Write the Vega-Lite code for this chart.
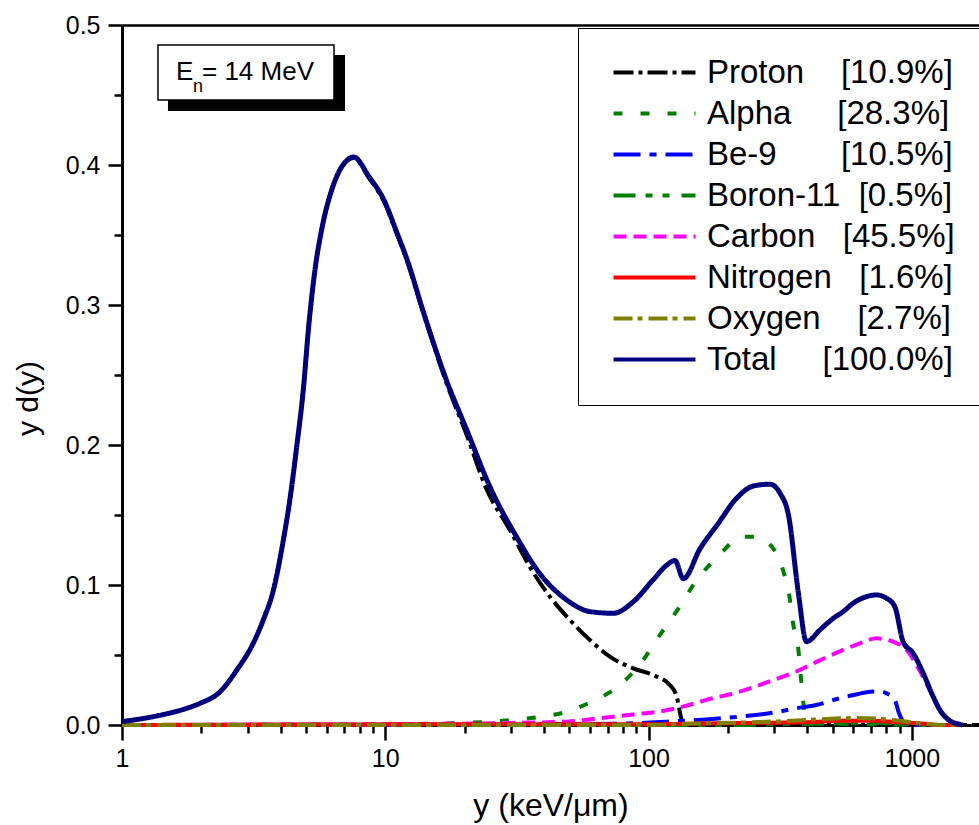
{
  "$schema": "https://vega.github.io/schema/vega-lite/v6.json",
  "width": 857,
  "height": 700,
  "autosize": {"type": "none"},
  "padding": {"left": 122, "top": 25, "right": 0, "bottom": 100},
  "background": "white",
  "config": {"view": {"stroke": null}, "font": "Liberation Sans", "axis": {"grid": false, "domainColor": "black", "tickColor": "black", "labelColor": "black", "titleColor": "black"}},
  "datasets": {
    "curves": [
      {"s": "Proton", "x": 1, "v": 0.0024}, {"s": "Proton", "x": 1.315, "v": 0.006}, {"s": "Proton", "x": 1.76, "v": 0.0119}, {"s": "Proton", "x": 1.98, "v": 0.0155}, {"s": "Proton", "x": 2.36, "v": 0.0238}, {"s": "Proton", "x": 2.73, "v": 0.0393}, {"s": "Proton", "x": 3.15, "v": 0.0583}, {"s": "Proton", "x": 3.44, "v": 0.075}, {"s": "Proton", "x": 3.76, "v": 0.0964}, {"s": "Proton", "x": 4.1, "v": 0.132}, {"s": "Proton", "x": 4.35, "v": 0.162}, {"s": "Proton", "x": 4.61, "v": 0.199}, {"s": "Proton", "x": 4.88, "v": 0.239}, {"s": "Proton", "x": 5.12, "v": 0.285}, {"s": "Proton", "x": 5.42, "v": 0.3265}, {"s": "Proton", "x": 5.75, "v": 0.355}, {"s": "Proton", "x": 6.28, "v": 0.383}, {"s": "Proton", "x": 6.85, "v": 0.399}, {"s": "Proton", "x": 7.59, "v": 0.405}, {"s": "Proton", "x": 8.65, "v": 0.391}, {"s": "Proton", "x": 10, "v": 0.372}, {"s": "Proton", "x": 10.9, "v": 0.354}, {"s": "Proton", "x": 12.3, "v": 0.3275}, {"s": "Proton", "x": 13.8, "v": 0.297}, {"s": "Proton", "x": 17.1, "v": 0.244}, {"s": "Proton", "x": 20.4, "v": 0.207}, {"s": "Proton", "x": 24.3, "v": 0.168}, {"s": "Proton", "x": 29.8, "v": 0.139}, {"s": "Proton", "x": 35.4, "v": 0.113}, {"s": "Proton", "x": 42.2, "v": 0.0917}, {"s": "Proton", "x": 50.3, "v": 0.075}, {"s": "Proton", "x": 59.9, "v": 0.0607}, {"s": "Proton", "x": 71.3, "v": 0.0488}, {"s": "Proton", "x": 87.5, "v": 0.0405}, {"s": "Proton", "x": 104, "v": 0.0357}, {"s": "Proton", "x": 120.5, "v": 0.0286}, {"s": "Proton", "x": 128, "v": 0.0202}, {"s": "Proton", "x": 133.6, "v": 0.0036}, {"s": "Proton", "x": 137, "v": 0}, {"s": "Proton", "x": 1800, "v": 0},

      {"s": "Alpha", "x": 1, "v": 0}, {"s": "Alpha", "x": 10, "v": 0.0005}, {"s": "Alpha", "x": 20, "v": 0.0015}, {"s": "Alpha", "x": 30.6, "v": 0.0036}, {"s": "Alpha", "x": 37.6, "v": 0.0055}, {"s": "Alpha", "x": 48.9, "v": 0.0095}, {"s": "Alpha", "x": 60.7, "v": 0.0167}, {"s": "Alpha", "x": 76.5, "v": 0.0274}, {"s": "Alpha", "x": 94.2, "v": 0.045}, {"s": "Alpha", "x": 110.5, "v": 0.0643}, {"s": "Alpha", "x": 130, "v": 0.0833}, {"s": "Alpha", "x": 151, "v": 0.1024}, {"s": "Alpha", "x": 184, "v": 0.1207}, {"s": "Alpha", "x": 228, "v": 0.1345}, {"s": "Alpha", "x": 255, "v": 0.1345}, {"s": "Alpha", "x": 289, "v": 0.129}, {"s": "Alpha", "x": 324, "v": 0.1107}, {"s": "Alpha", "x": 343, "v": 0.0917}, {"s": "Alpha", "x": 354, "v": 0.0726}, {"s": "Alpha", "x": 371, "v": 0.0536}, {"s": "Alpha", "x": 379, "v": 0.0345}, {"s": "Alpha", "x": 387, "v": 0.0167}, {"s": "Alpha", "x": 400, "v": 0.003}, {"s": "Alpha", "x": 420, "v": 0.001}, {"s": "Alpha", "x": 700, "v": 0.0005}, {"s": "Alpha", "x": 1100, "v": 0},

      {"s": "Be-9", "x": 1, "v": 0}, {"s": "Be-9", "x": 30, "v": 0.0005}, {"s": "Be-9", "x": 80, "v": 0.001}, {"s": "Be-9", "x": 117, "v": 0.0024}, {"s": "Be-9", "x": 166, "v": 0.004}, {"s": "Be-9", "x": 222, "v": 0.006}, {"s": "Be-9", "x": 297, "v": 0.0088}, {"s": "Be-9", "x": 363, "v": 0.0119}, {"s": "Be-9", "x": 434, "v": 0.0143}, {"s": "Be-9", "x": 530, "v": 0.019}, {"s": "Be-9", "x": 620, "v": 0.022}, {"s": "Be-9", "x": 695, "v": 0.0238}, {"s": "Be-9", "x": 760, "v": 0.024}, {"s": "Be-9", "x": 802, "v": 0.0226}, {"s": "Be-9", "x": 862, "v": 0.0179}, {"s": "Be-9", "x": 890, "v": 0.0095}, {"s": "Be-9", "x": 918, "v": 0.0036}, {"s": "Be-9", "x": 940, "v": 0}, {"s": "Be-9", "x": 1500, "v": 0},

      {"s": "Boron-11", "x": 1, "v": 0}, {"s": "Boron-11", "x": 200, "v": 0}, {"s": "Boron-11", "x": 300, "v": 0.0005}, {"s": "Boron-11", "x": 500, "v": 0.001}, {"s": "Boron-11", "x": 700, "v": 0.0015}, {"s": "Boron-11", "x": 900, "v": 0.001}, {"s": "Boron-11", "x": 1100, "v": 0}, {"s": "Boron-11", "x": 1500, "v": 0},

      {"s": "Carbon", "x": 1, "v": 0}, {"s": "Carbon", "x": 10, "v": 0.0005}, {"s": "Carbon", "x": 30, "v": 0.0015}, {"s": "Carbon", "x": 48.9, "v": 0.0024}, {"s": "Carbon", "x": 65, "v": 0.0048}, {"s": "Carbon", "x": 87.5, "v": 0.0075}, {"s": "Carbon", "x": 117, "v": 0.0105}, {"s": "Carbon", "x": 147, "v": 0.015}, {"s": "Carbon", "x": 166, "v": 0.0179}, {"s": "Carbon", "x": 222, "v": 0.0238}, {"s": "Carbon", "x": 297, "v": 0.032}, {"s": "Carbon", "x": 375, "v": 0.0393}, {"s": "Carbon", "x": 434, "v": 0.045}, {"s": "Carbon", "x": 530, "v": 0.0524}, {"s": "Carbon", "x": 635, "v": 0.0583}, {"s": "Carbon", "x": 735, "v": 0.0619}, {"s": "Carbon", "x": 850, "v": 0.0595}, {"s": "Carbon", "x": 955, "v": 0.0536}, {"s": "Carbon", "x": 1068, "v": 0.0393}, {"s": "Carbon", "x": 1170, "v": 0.025}, {"s": "Carbon", "x": 1280, "v": 0.0107}, {"s": "Carbon", "x": 1400, "v": 0.0024}, {"s": "Carbon", "x": 1500, "v": 0},

      {"s": "Nitrogen", "x": 1, "v": 0}, {"s": "Nitrogen", "x": 20, "v": 0.0005}, {"s": "Nitrogen", "x": 100, "v": 0.0005}, {"s": "Nitrogen", "x": 150, "v": 0.001}, {"s": "Nitrogen", "x": 250, "v": 0.0015}, {"s": "Nitrogen", "x": 400, "v": 0.002}, {"s": "Nitrogen", "x": 550, "v": 0.003}, {"s": "Nitrogen", "x": 700, "v": 0.003}, {"s": "Nitrogen", "x": 900, "v": 0.002}, {"s": "Nitrogen", "x": 1100, "v": 0.001}, {"s": "Nitrogen", "x": 1300, "v": 0}, {"s": "Nitrogen", "x": 1500, "v": 0},

      {"s": "Oxygen", "x": 1, "v": 0}, {"s": "Oxygen", "x": 100, "v": 0}, {"s": "Oxygen", "x": 150, "v": 0.001}, {"s": "Oxygen", "x": 250, "v": 0.002}, {"s": "Oxygen", "x": 350, "v": 0.003}, {"s": "Oxygen", "x": 450, "v": 0.004}, {"s": "Oxygen", "x": 600, "v": 0.005}, {"s": "Oxygen", "x": 750, "v": 0.0045}, {"s": "Oxygen", "x": 900, "v": 0.003}, {"s": "Oxygen", "x": 1100, "v": 0.001}, {"s": "Oxygen", "x": 1300, "v": 0}, {"s": "Oxygen", "x": 1500, "v": 0},

      {"s": "Total", "x": 1, "v": 0.0024}, {"s": "Total", "x": 1.315, "v": 0.006}, {"s": "Total", "x": 1.76, "v": 0.0119}, {"s": "Total", "x": 1.98, "v": 0.0155}, {"s": "Total", "x": 2.36, "v": 0.0238}, {"s": "Total", "x": 2.73, "v": 0.0393}, {"s": "Total", "x": 3.15, "v": 0.0583}, {"s": "Total", "x": 3.44, "v": 0.075}, {"s": "Total", "x": 3.76, "v": 0.0964}, {"s": "Total", "x": 4.1, "v": 0.132}, {"s": "Total", "x": 4.35, "v": 0.162}, {"s": "Total", "x": 4.61, "v": 0.199}, {"s": "Total", "x": 4.88, "v": 0.239}, {"s": "Total", "x": 5.12, "v": 0.285}, {"s": "Total", "x": 5.42, "v": 0.3265}, {"s": "Total", "x": 5.75, "v": 0.355}, {"s": "Total", "x": 6.28, "v": 0.383}, {"s": "Total", "x": 6.85, "v": 0.399}, {"s": "Total", "x": 7.59, "v": 0.4057}, {"s": "Total", "x": 8.65, "v": 0.392}, {"s": "Total", "x": 10, "v": 0.373}, {"s": "Total", "x": 10.9, "v": 0.355}, {"s": "Total", "x": 12.3, "v": 0.3285}, {"s": "Total", "x": 13.8, "v": 0.298}, {"s": "Total", "x": 17.1, "v": 0.246}, {"s": "Total", "x": 20.4, "v": 0.2107}, {"s": "Total", "x": 25, "v": 0.17}, {"s": "Total", "x": 31.5, "v": 0.1345}, {"s": "Total", "x": 38.7, "v": 0.108}, {"s": "Total", "x": 48.9, "v": 0.0893}, {"s": "Total", "x": 59.9, "v": 0.081}, {"s": "Total", "x": 73.4, "v": 0.0798}, {"s": "Total", "x": 87.5, "v": 0.088}, {"s": "Total", "x": 104, "v": 0.1036}, {"s": "Total", "x": 117, "v": 0.114}, {"s": "Total", "x": 126, "v": 0.1175}, {"s": "Total", "x": 135.6, "v": 0.1045}, {"s": "Total", "x": 157, "v": 0.126}, {"s": "Total", "x": 184, "v": 0.144}, {"s": "Total", "x": 216, "v": 0.162}, {"s": "Total", "x": 250, "v": 0.1707}, {"s": "Total", "x": 289, "v": 0.172}, {"s": "Total", "x": 316, "v": 0.1655}, {"s": "Total", "x": 340, "v": 0.15}, {"s": "Total", "x": 371, "v": 0.094}, {"s": "Total", "x": 398, "v": 0.0595}, {"s": "Total", "x": 448, "v": 0.068}, {"s": "Total", "x": 503, "v": 0.0762}, {"s": "Total", "x": 549, "v": 0.081}, {"s": "Total", "x": 599, "v": 0.087}, {"s": "Total", "x": 673, "v": 0.0917}, {"s": "Total", "x": 735, "v": 0.0929}, {"s": "Total", "x": 802, "v": 0.0905}, {"s": "Total", "x": 862, "v": 0.0845}, {"s": "Total", "x": 927, "v": 0.0595}, {"s": "Total", "x": 1012, "v": 0.0512}, {"s": "Total", "x": 1105, "v": 0.037}, {"s": "Total", "x": 1206, "v": 0.0202}, {"s": "Total", "x": 1279, "v": 0.0107}, {"s": "Total", "x": 1396, "v": 0.003}, {"s": "Total", "x": 1523, "v": 0.0005}, {"s": "Total", "x": 1560, "v": 0}
    ],
    "shadow": [{"x": 1.495, "x2": 7.031, "y": 0.4786, "y2": 0.4386}],
    "box": [{"x": 1.37, "x2": 6.387, "y": 0.4857, "y2": 0.4464}],
    "label": [{"x": 1.604, "y": 0.4607, "t": "E"}, {"x": 2.013, "y": 0.4607, "t": "= 14 MeV"}],
    "sub": [{"x": 1.861, "y": 0.4521, "t": "n"}]
  },
  "resolve": {"scale": {"x": "independent", "y": "independent"}, "axis": {"x": "independent", "y": "independent"}},
  "layer": [
    {
      "data": {"name": "shadow"},
      "mark": {"type": "rect", "fill": "black"},
      "encoding": {
        "x": {"field": "x", "type": "quantitative", "scale": {"type": "log", "domain": [1, 1800]},
          "axis": {"orient": "bottom", "values": [2,3,4,5,6,7,8,9,20,30,40,50,60,70,80,90,200,300,400,500,600,700,800,900], "labels": false, "domain": false, "ticks": true, "tickSize": 8, "tickWidth": 2.5, "title": null, "grid": false}},
        "x2": {"field": "x2"},
        "y": {"field": "y", "type": "quantitative", "scale": {"domain": [0, 0.5]},
          "axis": {"orient": "left", "values": [0.05, 0.15, 0.25, 0.35, 0.45], "labels": false, "domain": false, "ticks": true, "tickSize": 8, "tickWidth": 2.5, "title": null, "grid": false}},
        "y2": {"field": "y2"}
      }
    },
    {
      "data": {"name": "box"},
      "mark": {"type": "rect", "fill": "white", "stroke": "black", "strokeWidth": 1.5},
      "encoding": {
        "x": {"field": "x", "type": "quantitative", "scale": {"type": "log", "domain": [1, 1800]},
          "axis": {"orient": "top", "labels": false, "ticks": false, "domain": true, "domainWidth": 2.5, "title": null, "grid": false}},
        "x2": {"field": "x2"},
        "y": {"field": "y", "type": "quantitative", "scale": {"domain": [0, 0.5]}, "axis": null},
        "y2": {"field": "y2"}
      }
    },
    {
      "data": {"name": "label"},
      "mark": {"type": "text", "fontSize": 26, "align": "left", "baseline": "alphabetic", "color": "black", "font": "Liberation Sans"},
      "encoding": {
        "x": {"field": "x", "type": "quantitative", "scale": {"type": "log", "domain": [1, 1800]}, "axis": null},
        "y": {"field": "y", "type": "quantitative", "scale": {"domain": [0, 0.5]}, "axis": null},
        "text": {"field": "t"}
      }
    },
    {
      "data": {"name": "sub"},
      "mark": {"type": "text", "fontSize": 18, "align": "left", "baseline": "alphabetic", "color": "black", "font": "Liberation Sans"},
      "encoding": {
        "x": {"field": "x", "type": "quantitative", "scale": {"type": "log", "domain": [1, 1800]}, "axis": null},
        "y": {"field": "y", "type": "quantitative", "scale": {"domain": [0, 0.5]}, "axis": null},
        "text": {"field": "t"}
      }
    },
    {
      "data": {"name": "curves"},
      "mark": {"type": "line", "interpolate": "monotone", "strokeCap": "butt", "strokeJoin": "round"},
      "encoding": {
        "x": {"field": "x", "type": "quantitative", "scale": {"type": "log", "domain": [1, 1800]},
          "axis": {"orient": "bottom", "values": [1, 10, 100, 1000], "format": "d", "tickSize": 15, "tickWidth": 2.5, "domainWidth": 3, "labelFontSize": 25, "labelFont": "Liberation Sans", "labelPadding": 6, "labelFlush": false, "title": "y (keV/μm)", "titleFont": "Liberation Sans", "titleFontSize": 32, "titleFontWeight": "normal", "titlePadding": 19, "grid": false}},
        "y": {"field": "v", "type": "quantitative", "scale": {"domain": [0, 0.5]},
          "axis": {"orient": "left", "values": [0, 0.1, 0.2, 0.3, 0.4, 0.5], "format": ".1f", "tickSize": 14, "tickWidth": 2.5, "domainWidth": 3, "labelFontSize": 25, "labelFont": "Liberation Sans", "labelPadding": 8, "labelFlush": false, "title": "y d(y)", "titleFont": "Liberation Sans", "titleFontSize": 30, "titleFontWeight": "normal", "titleX": -94, "titleY": 373, "titleBaseline": "middle", "grid": false}},
        "color": {"field": "s", "type": "nominal",
          "scale": {"domain": ["Proton", "Alpha", "Be-9", "Boron-11", "Carbon", "Nitrogen", "Oxygen", "Total"], "range": ["#000000", "#008000", "#0000FF", "#008000", "#FF00FF", "#FF0000", "#808000", "#000080"]},
          "legend": {"title": null, "orient": "none", "legendX": 456, "legendY": 3, "fillColor": "white", "strokeColor": "black", "padding": 28, "symbolType": "M-4,0H4", "symbolSize": 420, "symbolStrokeWidth": 4, "symbolOffset": 32, "labelFontSize": 33, "labelFont": "Liberation Sans", "labelColor": "black", "labelOffset": 36, "labelLimit": 0, "rowPadding": 7,
            "labelExpr": "datum.label == 'Proton' ? 'Proton\u00a0\u00a0\u00a0\u00a0[10.9%]' : datum.label == 'Alpha' ? 'Alpha\u00a0\u00a0\u00a0\u00a0\u00a0[28.3%]' : datum.label == 'Be-9' ? 'Be-9\u00a0\u00a0\u00a0\u00a0\u00a0\u00a0\u00a0[10.5%]' : datum.label == 'Boron-11' ? 'Boron-11\u00a0\u00a0[0.5%]' : datum.label == 'Carbon' ? 'Carbon\u00a0\u00a0\u00a0[45.5%]' : datum.label == 'Nitrogen' ? 'Nitrogen\u00a0\u00a0\u00a0[1.6%]' : datum.label == 'Oxygen' ? 'Oxygen\u00a0\u00a0\u00a0\u00a0[2.7%]' : 'Total\u00a0\u00a0\u00a0\u00a0\u00a0[100.0%]'"}},
        "strokeDash": {"field": "s", "type": "nominal",
          "scale": {"domain": ["Proton", "Alpha", "Be-9", "Boron-11", "Carbon", "Nitrogen", "Oxygen", "Total"], "range": [[20, 5, 4, 5], [9, 18], [27, 9, 7, 9], [22, 10, 7, 10, 7, 12], [13, 7], [1, 0], [19, 5, 5, 6], [1, 0]]},
          "legend": {"title": null, "orient": "none", "legendX": 456, "legendY": 3, "fillColor": "white", "strokeColor": "black", "padding": 28, "symbolType": "M-4,0H4", "symbolSize": 420, "symbolStrokeWidth": 4, "symbolOffset": 32, "labelFontSize": 33, "labelFont": "Liberation Sans", "labelColor": "black", "labelOffset": 36, "labelLimit": 0, "rowPadding": 7,
            "labelExpr": "datum.label == 'Proton' ? 'Proton\u00a0\u00a0\u00a0\u00a0[10.9%]' : datum.label == 'Alpha' ? 'Alpha\u00a0\u00a0\u00a0\u00a0\u00a0[28.3%]' : datum.label == 'Be-9' ? 'Be-9\u00a0\u00a0\u00a0\u00a0\u00a0\u00a0\u00a0[10.5%]' : datum.label == 'Boron-11' ? 'Boron-11\u00a0\u00a0[0.5%]' : datum.label == 'Carbon' ? 'Carbon\u00a0\u00a0\u00a0[45.5%]' : datum.label == 'Nitrogen' ? 'Nitrogen\u00a0\u00a0\u00a0[1.6%]' : datum.label == 'Oxygen' ? 'Oxygen\u00a0\u00a0\u00a0\u00a0[2.7%]' : 'Total\u00a0\u00a0\u00a0\u00a0\u00a0[100.0%]'"}},
        "strokeWidth": {"condition": {"test": "datum.s === 'Total'", "value": 5}, "value": 4}
      }
    }
  ]
}
